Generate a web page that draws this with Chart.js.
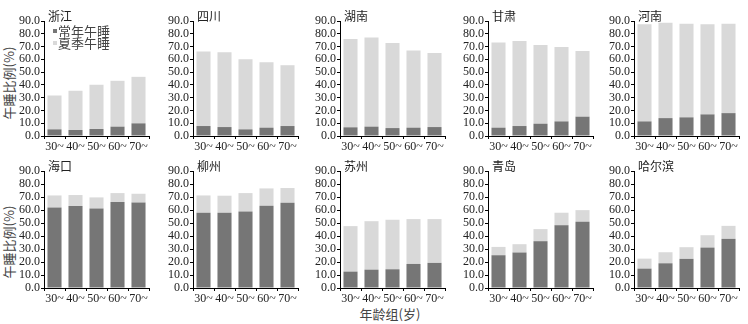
<!DOCTYPE html>
<html>
<head>
<meta charset="utf-8">
<script src="https://cdn.jsdelivr.net/npm/chart.js@4/dist/chart.umd.min.js"></script>
<style>
  html, body { margin: 0; padding: 0; background: #fff; width: 748px; height: 324px; overflow: hidden; }
  canvas { position: absolute; }
  .axis-title { position: absolute; font: 13px "Noto Sans CJK SC", sans-serif; color: #444; white-space: nowrap; }
</style>
</head>
<body>
<div class="axis-title" id="ytitle1">午睡比例(%)</div>
<div class="axis-title" id="ytitle2">午睡比例(%)</div>
<div class="axis-title" id="xtitle">年龄组(岁)</div>
<script>
// age groups on the x axis
const ageGroups = ['30~', '40~', '50~', '60~', '70~'];
const yTickValues = [0, 10, 20, 30, 40, 50, 60, 70, 80, 90];
const seriesNames = ['常年午睡', '夏季午睡'];
const cityNames = ['浙江', '四川', '湖南', '甘肃', '河南', '海口', '柳州', '苏州', '青岛', '哈尔滨'];

// 常年午睡 (bottom segment) and 夏季午睡 (stacked on top), %
const zhejiangYear = [5.2, 4.7, 5.5, 7.3, 9.9];
const zhejiangSummer = [26.5, 30.7, 34.6, 35.9, 36.4];
const sichuanYear = [7.8, 7.0, 5.2, 6.5, 7.8];
const sichuanSummer = [58.3, 58.6, 54.9, 51.3, 47.6];
const hunanYear = [6.8, 7.3, 6.2, 6.5, 7.0];
const hunanSummer = [69.2, 69.7, 66.6, 60.4, 58.0];
const gansuYear = [6.5, 7.8, 9.6, 11.4, 15.1];
const gansuSummer = [66.6, 66.6, 61.7, 58.3, 51.5];
const henanYear = [11.4, 14.0, 14.6, 16.9, 17.9];
const henanSummer = [76.0, 74.7, 73.3, 70.5, 70.0];
const haikouYear = [62.0, 63.0, 61.2, 66.1, 65.8];
const haikouSummer = [9.2, 8.5, 8.5, 6.9, 6.7];
const liuzhouYear = [57.9, 57.9, 58.9, 63.3, 65.6];
const liuzhouSummer = [13.3, 13.1, 14.1, 13.3, 11.3];
const suzhouYear = [12.6, 14.1, 14.4, 18.5, 19.3];
const suzhouSummer = [35.0, 37.3, 38.1, 34.5, 33.7];
const qingdaoYear = [25.2, 27.3, 36.0, 48.3, 50.9];
const qingdaoSummer = [6.4, 6.4, 9.3, 9.6, 9.0];
const harbinYear = [14.9, 19.0, 22.4, 31.1, 37.8];
const harbinSummer = [7.7, 8.5, 9.0, 9.5, 10.0];

const yearSeries = [zhejiangYear, sichuanYear, hunanYear, gansuYear, henanYear,
  haikouYear, liuzhouYear, suzhouYear, qingdaoYear, harbinYear];
const summerSeries = [zhejiangSummer, sichuanSummer, hunanSummer, gansuSummer, henanSummer,
  haikouSummer, liuzhouSummer, suzhouSummer, qingdaoSummer, harbinSummer];

const DARK = '#767676';
const LIGHT = '#d9d9d9';
const TEXT = '#222';
const numFont = { family: '"Liberation Serif", "Times New Roman", serif', size: 12, lineHeight: 1 };
const cjkFont = '"Noto Sans CJK SC", sans-serif';

// layout of the 5x2 grid
const axisXs = [44, 193, 340, 488, 634];
const rowTops = [21, 171];
const rowBottoms = [136, 288];
const PAD_TOP = 12, Y_W = 44, X_H = 20, PLOT_W = 105, PAD_R = 4;

const panelTitle = {
  id: 'panelTitle',
  afterDraw(chart, args, opts) {
    const { ctx, chartArea } = chart;
    ctx.save();
    ctx.fillStyle = TEXT;
    ctx.font = '12px ' + cjkFont;
    ctx.textBaseline = 'middle';
    ctx.textAlign = 'left';
    ctx.fillText(opts.text, chartArea.left + 4, chartArea.top - 5);
    if (opts.legend) {
      chart.data.datasets.forEach((ds, i) => {
        const y = chartArea.top + 10 + i * 12;
        ctx.fillStyle = ds.backgroundColor;
        ctx.fillRect(chartArea.left + 9, y - 2, 4, 4);
        ctx.fillStyle = '#444';
        ctx.font = '13px ' + cjkFont;
        ctx.fillText(ds.label, chartArea.left + 14, y);
      });
    }
    ctx.restore();
  }
};

cityNames.forEach((name, i) => {
  const col = i % 5, row = Math.floor(i / 5);
  const plotH = rowBottoms[row] - rowTops[row];
  const cv = document.createElement('canvas');
  cv.width = Y_W + PLOT_W + PAD_R;
  cv.height = PAD_TOP + plotH + X_H;
  cv.style.left = (axisXs[col] - Y_W) + 'px';
  cv.style.top = (rowTops[row] - PAD_TOP) + 'px';
  document.body.appendChild(cv);

  new Chart(cv, {
    type: 'bar',
    data: {
      labels: ageGroups,
      datasets: [
        { label: seriesNames[0], data: yearSeries[i], backgroundColor: DARK },
        { label: seriesNames[1], data: summerSeries[i], backgroundColor: LIGHT }
      ]
    },
    options: {
      responsive: false,
      animation: false,
      categoryPercentage: 1,
      barPercentage: 0.67,
      layout: { padding: { top: PAD_TOP, right: PAD_R, left: 0, bottom: 0 } },
      scales: {
        x: {
          stacked: true,
          offset: true,
          grid: { display: true, drawOnChartArea: false, offset: true, tickLength: 3, color: '#000' },
          border: { color: '#000', width: 1 },
          ticks: { font: numFont, color: TEXT, padding: 2, maxRotation: 0, autoSkip: false },
          afterFit: s => { s.height = X_H; }
        },
        y: {
          stacked: true,
          min: 0,
          max: 90,
          grid: { display: true, drawOnChartArea: false, tickLength: 3, color: '#000' },
          border: { color: '#000', width: 1 },
          ticks: {
            font: numFont, color: TEXT, padding: 1, autoSkip: false,
            callback: v => Number(v).toFixed(1)
          },
          afterBuildTicks: s => { s.ticks = yTickValues.map(v => ({ value: v })); },
          afterFit: s => { s.width = Y_W; }
        }
      },
      plugins: {
        legend: { display: false },
        tooltip: { enabled: false },
        panelTitle: { text: name, legend: i === 0 }
      }
    },
    plugins: [panelTitle]
  });
});

// shared axis titles
const yt1 = document.getElementById('ytitle1');
const yt2 = document.getElementById('ytitle2');
const xt = document.getElementById('xtitle');
[[yt1, 83], [yt2, 242]].forEach(([el, cy]) => {
  el.style.left = '8px';
  el.style.top = cy + 'px';
  el.style.transform = 'translate(-50%, -50%) rotate(-90deg)';
});
xt.style.left = '390px';
xt.style.top = '313px';
xt.style.transform = 'translate(-50%, -50%)';
</script>
</body>
</html>
